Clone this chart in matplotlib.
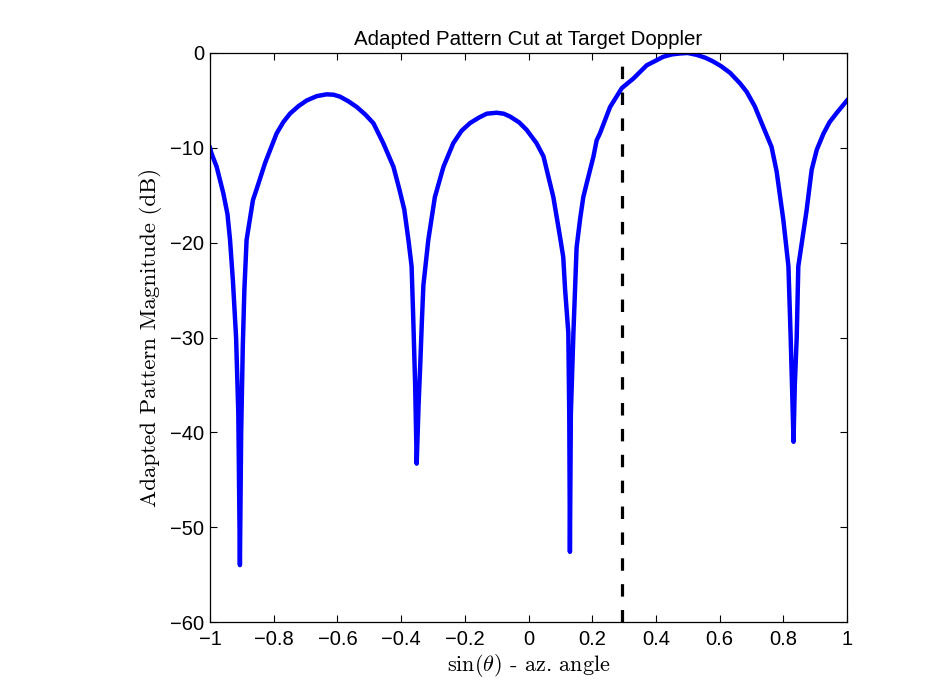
import numpy as np
import matplotlib
matplotlib.use("Agg")
import matplotlib.pyplot as plt

plt.rcParams['font.family'] = ['Liberation Sans', 'DejaVu Sans']
plt.rcParams['mathtext.fontset'] = 'cm'

# azimuth (sin theta) and adapted pattern magnitude (dB)
sin_theta = [-1.000, -0.995, -0.979, -0.958, -0.945, -0.937, -0.928, -0.918, -0.911, -0.906,
             -0.902, -0.897, -0.892, -0.885, -0.865, -0.853, -0.827, -0.791, -0.770, -0.749,
             -0.722, -0.696, -0.665, -0.634, -0.612, -0.592, -0.565, -0.539, -0.512, -0.487,
             -0.456, -0.424, -0.406, -0.390,
             -0.377, -0.367, -0.362, -0.356, -0.351, -0.345, -0.340, -0.335, -0.330, -0.3145,
             -0.294, -0.267, -0.236, -0.210, -0.184, -0.155, -0.131, -0.100, -0.078, -0.058,
             -0.030, -0.006, 0.025,
             0.047, 0.078, 0.099, 0.109, 0.115, 0.125, 0.128, 0.130, 0.133, 0.136,
             0.141, 0.151, 0.162, 0.172, 0.183, 0.204, 0.214, 0.224, 0.256, 0.293,
             0.329, 0.371, 0.400, 0.423, 0.450, 0.476, 0.500, 0.528, 0.555, 0.580,
             0.605, 0.633, 0.664, 0.685,
             0.710, 0.737, 0.763, 0.779, 0.800, 0.816, 0.823, 0.828, 0.832, 0.836,
             0.842, 0.847, 0.873, 0.889, 0.905, 0.926, 0.945, 0.968, 1.000]
pattern_db = [-10.0, -10.6, -12.0, -14.8, -17.0, -19.7, -24.0, -30.0, -38.0, -54.0,
              -40.0, -31.0, -25.0, -19.7, -15.5, -14.3, -11.6, -8.5, -7.3, -6.4,
              -5.6, -5.0, -4.55, -4.36, -4.4, -4.6, -5.1, -5.7, -6.5, -7.4,
              -9.5, -12.0, -14.3, -16.5,
              -19.7, -22.5, -27.8, -34.8, -43.3, -37.0, -33.0, -28.5, -24.5, -19.7,
              -15.2, -12.0, -9.5, -8.2, -7.4, -6.8, -6.4, -6.3, -6.4, -6.7,
              -7.3, -8.1, -9.5,
              -10.9, -15.2, -19.4, -21.5, -25.0, -29.5, -38.4, -52.6, -38.0, -34.8,
              -29.5, -20.5, -17.5, -15.2, -13.7, -10.9, -9.2, -8.5, -5.7, -3.7,
              -2.7, -1.3, -0.8, -0.4, -0.15, -0.05, 0.0, -0.2, -0.5, -0.9,
              -1.4, -2.1, -3.2, -4.1,
              -5.6, -7.8, -9.9, -12.5, -17.6, -22.5, -30.0, -36.0, -41.0, -35.0,
              -30.0, -22.5, -16.6, -12.3, -10.2, -8.5, -7.3, -6.3, -5.0]
target_angle = 0.295

fig = plt.figure(figsize=(9.34, 7), dpi=100)
ax = fig.add_axes([0.2248, 0.1114, 0.6821, 0.8129])
ax.plot(sin_theta, pattern_db, color=(0, 0, 1), lw=3.2, solid_joinstyle='round')
ax.plot([target_angle, target_angle], [-60, 0], color='k', lw=2.3, dashes=(3.9, 4.2))

ax.set_xlim(-1, 1)
ax.set_ylim(-60, 0)
ax.set_xticks(np.arange(-1, 1.01, 0.2))
ax.set_xticklabels(['\u22121', '\u22120.8', '\u22120.6', '\u22120.4', '\u22120.2', '0',
                    '0.2', '0.4', '0.6', '0.8', '1'])
ax.set_yticks(np.arange(-60, 1, 10))
ax.set_yticklabels(['\u221260', '\u221250', '\u221240', '\u221230', '\u221220', '\u221210', '0'])
ax.tick_params(direction='in', top=True, right=True, length=5, width=0.8,
               labelsize=14.5)
ax.tick_params(axis='x', pad=6)
ax.tick_params(axis='y', pad=4)
for s in ax.spines.values():
    s.set_linewidth(0.9)

ax.set_title('Adapted Pattern Cut at Target Doppler', fontsize=14.8, pad=6)
ax.set_xlabel(r'$\sin(\theta)$ - az. angle', fontfamily='cmr10', fontsize=16, labelpad=2)
ax.set_ylabel('Adapted Pattern Magnitude (dB)', fontfamily='cmr10', fontsize=16.5, labelpad=6)

fig.savefig("out.png", dpi=100)
